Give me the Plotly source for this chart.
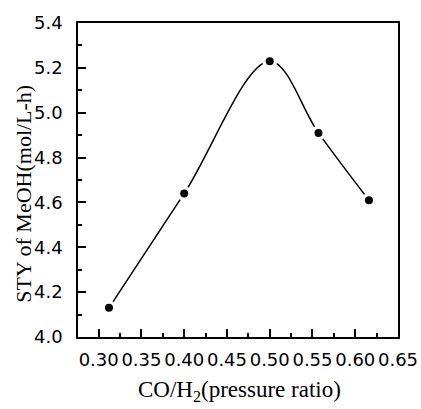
import plotly.graph_objects as go

x_ratio = [0.312, 0.400, 0.500, 0.557, 0.616]
sty = [4.13, 4.64, 5.23, 4.91, 4.61]

x_ticks = [0.30, 0.35, 0.40, 0.45, 0.50, 0.55, 0.60, 0.65]
x_ticklabels = ["0.30", "0.35", "0.40", "0.45", "0.50", "0.55", "0.60", "0.65"]
y_ticks = [4.0, 4.2, 4.4, 4.6, 4.8, 5.0, 5.2, 5.4]
y_ticklabels = ["4.0", "4.2", "4.4", "4.6", "4.8", "5.0", "5.2", "5.4"]

fig = go.Figure()
fig.add_trace(go.Scatter(x=x_ratio, y=sty, mode="lines",
                         line=dict(color="black", width=1.5, shape="spline", smoothing=1.0),
                         hoverinfo="skip", showlegend=False))
fig.add_trace(go.Scatter(x=x_ratio, y=sty, mode="markers",
                         marker=dict(color="white", size=15, line=dict(width=0)),
                         hoverinfo="skip", showlegend=False))
fig.add_trace(go.Scatter(x=x_ratio, y=sty, mode="markers",
                         marker=dict(color="black", size=8, line=dict(width=0)),
                         showlegend=False))

tickfont = dict(family="DejaVu Sans", size=18, color="black")
fig.update_layout(
    width=421, height=409,
    margin=dict(l=77.5, r=23.3, t=20, b=72),
    plot_bgcolor="white", paper_bgcolor="white",
    xaxis=dict(range=[0.2758, 0.65], tickmode="array", tickvals=x_ticks, ticktext=x_ticklabels,
               ticks="inside", ticklen=8, tickwidth=1.5, tickcolor="black",
               minor=dict(dtick=0.025, tick0=0.275, ticks="inside", ticklen=4, tickwidth=1.5, tickcolor="black"),
               showline=True, linecolor="black", linewidth=1.5, mirror=True,
               showgrid=False, zeroline=False, tickfont=tickfont, ticklabelstandoff=6),
    yaxis=dict(range=[4.0, 5.4], tickmode="array", tickvals=y_ticks, ticktext=y_ticklabels,
               ticks="inside", ticklen=8, tickwidth=1.5, tickcolor="black",
               minor=dict(dtick=0.1, tick0=4.0, ticks="inside", ticklen=4, tickwidth=1.5, tickcolor="black"),
               showline=True, linecolor="black", linewidth=1.5, mirror=True,
               showgrid=False, zeroline=False, tickfont=tickfont, ticklabelstandoff=10),
    annotations=[
        dict(text="STY of MeOH(mol/L-h)", xref="paper", yref="paper", x=-0.170, y=0.455,
             xanchor="center", yanchor="middle", textangle=-90, showarrow=False,
             font=dict(family="Liberation Serif", size=22, color="black")),
        dict(text="CO/H<sub>2</sub>(pressure ratio)", xref="paper", yref="paper", x=0.506, y=-0.172,
             xanchor="center", yanchor="middle", showarrow=False,
             font=dict(family="Liberation Serif", size=23, color="black")),
    ],
)
fig.write_html("out.html", config={"displayModeBar": False},
               post_script="document.body.style.margin='0';document.body.style.overflow='hidden';")
